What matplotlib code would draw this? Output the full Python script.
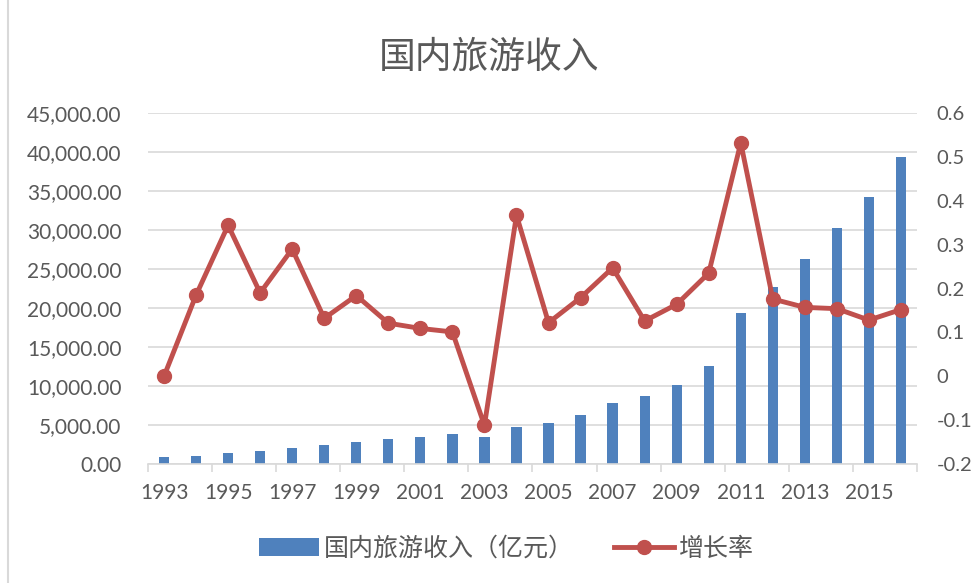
import numpy as np
import matplotlib.pyplot as plt
from matplotlib.ticker import FuncFormatter, MultipleLocator
from matplotlib.lines import Line2D
from matplotlib.patches import Patch

plt.rcParams['font.family'] = ['Lato', 'Noto Sans CJK SC', 'DejaVu Sans']

# data
years = list(range(1993, 2017))
revenue = [864.0, 1023.5, 1375.7, 1638.4, 2112.7, 2391.2, 2831.9, 3175.5,
           3522.4, 3878.4, 3442.3, 4710.7, 5285.9, 6229.7, 7770.6, 8749.3,
           10183.7, 12579.8, 19305.4, 22706.2, 26276.1, 30311.9, 34195.1, 39390.0]
growth = [0.0, 0.185, 0.344, 0.19, 0.29, 0.132, 0.184, 0.121, 0.109, 0.101,
          -0.112, 0.367, 0.122, 0.179, 0.247, 0.126, 0.164, 0.235, 0.532,
          0.176, 0.157, 0.154, 0.128, 0.152]

bar_color = '#4F81BD'
line_color = '#C0504D'
text_color = '#595959'
grid_color = '#D9D9D9'

fig = plt.figure(figsize=(9.79, 5.83), dpi=100)
ax = fig.add_axes([148 / 979, 1 - 464 / 583, (917 - 148) / 979, (464 - 113) / 583])
ax2 = ax.twinx()

x = np.arange(len(years))
ax.bar(x, revenue, width=0.32, color=bar_color, zorder=2)
ax2.plot(x, growth, color=line_color, linewidth=3.5, marker='o', markersize=10, zorder=3)

ax.set_xlim(-0.5, len(years) - 0.5)
ax.set_ylim(0, 45000)
ax2.set_ylim(-0.2, 0.6)
ax.yaxis.set_major_locator(MultipleLocator(5000))
ax2.yaxis.set_major_locator(MultipleLocator(0.1))
ax.yaxis.set_major_formatter(FuncFormatter(lambda v, p: f'{v:,.2f}'))
ax2.yaxis.set_major_formatter(FuncFormatter(lambda v, p: '0' if abs(v) < 1e-9 else f'{v:.1f}'))

ax.grid(axis='y', color=grid_color, linewidth=1.2, zorder=0)
ax.set_axisbelow(True)

# category labels every other year, tick marks every two categories
ax.set_xticks(x[::2])
ax.set_xticklabels([str(y) for y in years[::2]])
ax.set_xticks(np.arange(-0.5, len(years), 2), minor=True)
ax.tick_params(axis='x', which='major', length=0, pad=14, labelsize=15, labelcolor=text_color)
ax.tick_params(axis='x', which='minor', length=6, color=grid_color, width=1.2)
ax.tick_params(axis='y', length=0, pad=19, labelsize=15, labelcolor=text_color)
ax2.tick_params(axis='y', length=0, pad=14, labelsize=14.5, labelcolor=text_color)

for a in (ax, ax2):
    for s in ('top', 'left', 'right'):
        a.spines[s].set_visible(False)
ax2.spines['bottom'].set_visible(False)
ax.spines['bottom'].set_color(grid_color)
ax.spines['bottom'].set_linewidth(1.2)

fig.text(0.5, 1 - 56 / 583, '国内旅游收入', ha='center', va='center', fontsize=26.5, color=text_color)

handles = [Patch(facecolor=bar_color, edgecolor='none'),
           Line2D([0], [0], color=line_color, linewidth=3.5, marker='o', markersize=10)]
fig.legend(handles, ['国内旅游收入（亿元）', '增长率'], loc='center',
           bbox_to_anchor=(0.517, 1 - 548 / 583), ncol=2, frameon=False,
           fontsize=18, labelcolor=text_color, handlelength=2.4, handletextpad=0.2,
           columnspacing=1.6)

# chart frame edge on the left
fig.add_artist(Line2D([8 / 979, 8 / 979], [0, 1], color='#D9D9D9', linewidth=1.5))

fig.savefig('out.png', dpi=100)
